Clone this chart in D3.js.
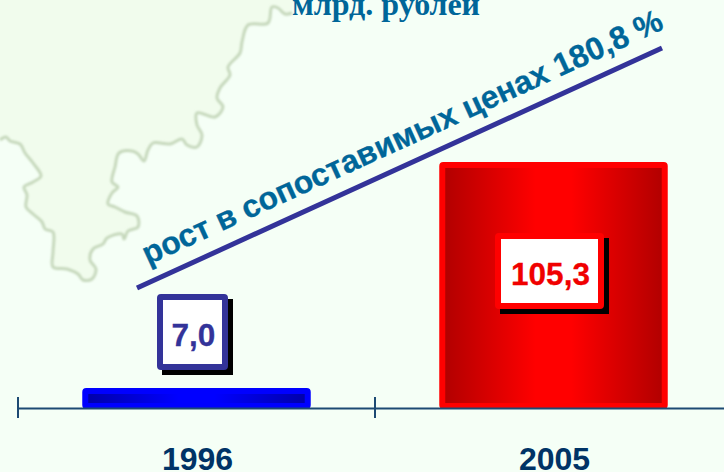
<!DOCTYPE html>
<html><head><meta charset="utf-8">
<script src="https://cdn.jsdelivr.net/npm/d3@7/dist/d3.min.js"></script>
<style>html,body{margin:0;padding:0;background:#f5fff6;overflow:hidden}svg{display:block}</style>
</head><body><svg id="c" width="724" height="472"></svg>
<script>
const years = ["1996", "2005"];
const values = [7.0, 105.3];
const valueLabels = ["7,0", "105,3"];
const unitTitle = "млрд. рублей";
const growthText = "рост в сопоставимых ценах 180,8 %";
const mapOutline = [[0,140],[6,137],[10,141],[20,144],[25,153],[33,163],[41,176],[33,182],[24,187],[27,195],[26,207],[33,214],[42,222],[45,229],[53,232],[53,252],[53,267],[67,269],[78,274],[83,280],[92,279],[96,269],[90,260],[93,249],[103,244],[107,238],[122,234],[124,239],[128,231],[138,227],[137,216],[125,212],[115,207],[108,204],[112,193],[118,187],[112,182],[115,167],[119,153],[132,151],[138,154],[144,161],[148,150],[153,143],[170,144],[182,139],[187,145],[197,147],[202,135],[197,125],[197,113],[215,117],[223,107],[217,98],[220,88],[230,75],[228,67],[240,53],[242,42],[248,25],[268,23],[272,7],[278,8],[285,14],[292,13]];

const svg = d3.select("#c");
const defs = svg.append("defs");
const grad = (id, edge, mid) => {
  const g = defs.append("linearGradient").attr("id", id);
  [[0, edge], [.42, mid], [.58, mid], [1, edge]].forEach(([o, c]) =>
    g.append("stop").attr("offset", o).attr("stop-color", c));
};
grad("g0", "#0000a8", "#0000ff");
grad("g1", "#b00000", "#ff0000");
defs.append("filter").attr("id", "soft").append("feGaussianBlur").attr("stdDeviation", .8);

svg.append("rect").attr("width", 724).attr("height", 472).attr("fill", "#f5fff6");

// background map
const line = d3.line().curve(d3.curveCatmullRom);
svg.append("path")
  .attr("d", d3.line()([[0, 0], ...mapOutline, [293, 0]]) + "Z")
  .attr("fill", "#f1fced");
svg.append("path").attr("d", line(mapOutline)).attr("fill", "none")
  .attr("stroke", "#c6d8bc").attr("stroke-width", 3).attr("stroke-linejoin", "round")
  .attr("filter", "url(#soft)");

// scales
const x = d3.scaleBand().domain(years).range([18, 732]).paddingInner(.36).paddingOuter(.18);
const y = d3.scaleLinear().domain([0, 105.3]).range([407, 165]);
const baseY = 408;
const axisColor = "#1d4a73";

// bars
const sw = 6;
years.forEach((yr, i) => {
  const top = y(values[i]);
  svg.append("rect")
    .attr("x", x(yr) + sw / 2).attr("width", x.bandwidth() - sw)
    .attr("y", top).attr("height", baseY - top - 2)
    .attr("rx", 1)
    .attr("fill", `url(#g${i})`)
    .attr("stroke", i ? "#ff0000" : "#0000ff").attr("stroke-width", sw);
});

// axis
const axis = svg.append("g").attr("transform", `translate(0,${baseY})`)
  .call(d3.axisBottom(x).tickSize(0));
axis.select(".domain").attr("stroke", axisColor).attr("stroke-width", 2);
axis.selectAll("text")
  .attr("fill", "#003366").attr("font-family", "'Liberation Sans'")
  .attr("font-weight", "bold").attr("font-size", 32).attr("dy", 0)
  .attr("x", 1).attr("y", 62);
[0, 1].forEach(k => {
  const tx = x.range()[0] + k * x.step();
  svg.append("line").attr("x1", tx).attr("x2", tx)
    .attr("y1", baseY - 11).attr("y2", baseY + 10)
    .attr("stroke", axisColor).attr("stroke-width", 2);
});

// value labels
const boxW = [65, 103], boxH = [70, 70];
const boxCY = [332, 271];
const boxColor = ["#333399", "#ff0000"];
const labelColor = ["#333399", "#f00000"];
years.forEach((yr, i) => {
  const cx = x(yr) + x.bandwidth() / 2 - 4;
  const rx = cx - boxW[i] / 2, ry = boxCY[i] - boxH[i] / 2;
  svg.append("rect").attr("x", rx + 2).attr("y", ry + 2)
    .attr("width", boxW[i] + 6).attr("height", boxH[i] + 6).attr("fill", "#000");
  svg.append("rect").attr("x", rx).attr("y", ry).attr("width", boxW[i]).attr("height", boxH[i])
    .attr("fill", "#fff").attr("stroke", boxColor[i]).attr("stroke-width", 6).attr("rx", 1);
  svg.append("text").attr("x", cx + 1).attr("y", boxCY[i] + 13.5)
    .attr("text-anchor", "middle").attr("font-family", "'Liberation Sans'")
    .attr("font-weight", "bold").attr("font-size", 31.5).attr("fill", labelColor[i])
    .attr("stroke", labelColor[i]).attr("stroke-width", .3)
    .text(valueLabels[i]);
});

// growth line and label
svg.append("line").attr("x1", 137).attr("y1", 288).attr("x2", 662).attr("y2", 48)
  .attr("stroke", "#333399").attr("stroke-width", 5);
const ang = Math.atan2(48 - 288, 662 - 137) * 180 / Math.PI;
svg.append("text").attr("transform", `translate(148,265) rotate(${ang})`)
  .attr("font-family", "'Liberation Sans'").attr("font-weight", "bold")
  .attr("font-size", 31.8).attr("fill", "#006699")
  .attr("stroke", "#006699").attr("stroke-width", .3).text(growthText);

// unit title
svg.append("text").attr("x", 386).attr("y", 14.5).attr("text-anchor", "middle")
  .attr("font-family", "'Liberation Serif'").attr("font-weight", "bold")
  .attr("font-size", 32).attr("fill", "#006699").text(unitTitle);
</script></body></html>
